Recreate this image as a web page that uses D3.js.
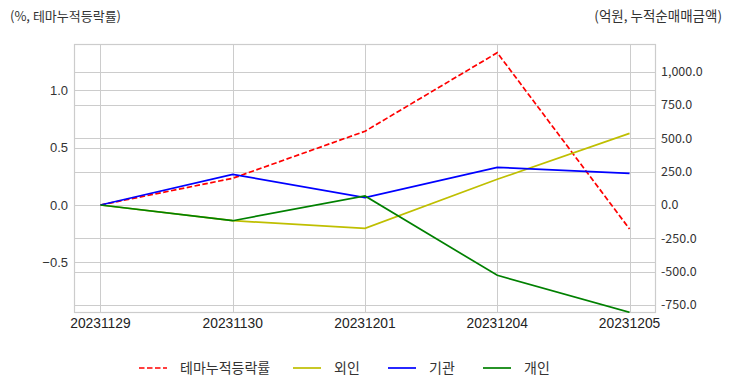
<!DOCTYPE html>
<html><head><meta charset="utf-8">
<script src="https://cdn.jsdelivr.net/npm/d3@7"></script>
<style>body{margin:0;background:#fff}svg{display:block}</style>
</head><body><svg id="c" width="732" height="392"></svg>
<script>
const categories = ["20231129","20231130","20231201","20231204","20231205"];
const themeRate = [0, 0.233, 0.643, 1.328, -0.21];
const foreign = [0, -118, -175, 193, 538];
const institution = [0, 230, 55, 283, 238];
const individual = [0, -118, 68, -528, -806];
const leftTicks = [-0.5, 0.0, 0.5, 1.0];
const rightTicks = [-750, -500, -250, 0, 250, 500, 750, 1000];
const leftTitle = "(%, 테마누적등락률)";
const rightTitle = "(억원, 누적순매매금액)";
const seriesNames = ["테마누적등락률","외인","기관","개인"];

const svg = d3.select("#c");
const L = 74, R = 656, T = 44, B = 313;
const inset = (R - L) * 0.2 / 4.4;
const x = d3.scalePoint().domain(categories).range([L + inset, R - inset]);
const yL = d3.scaleLinear().domain([-0.942, 1.404]).range([B, T]);
const yR = d3.scaleLinear().domain([-811, 1209]).range([B, T]);
const grid = "#cccccc";
const g = svg.append("g");
g.selectAll(".gl").data(leftTicks).join("line").attr("x1", L).attr("x2", R)
  .attr("y1", d => Math.round(yL(d)) + 0.5).attr("y2", d => Math.round(yL(d)) + 0.5)
  .attr("stroke", grid).attr("stroke-width", 1);
g.selectAll(".gr").data(rightTicks).join("line").attr("x1", L).attr("x2", R)
  .attr("y1", d => Math.round(yR(d)) + 0.5).attr("y2", d => Math.round(yR(d)) + 0.5)
  .attr("stroke", grid).attr("stroke-width", 1);
g.selectAll(".gx").data(categories).join("line").attr("y1", T).attr("y2", B)
  .attr("x1", d => Math.round(x(d)) + 0.5).attr("x2", d => Math.round(x(d)) + 0.5)
  .attr("stroke", grid).attr("stroke-width", 1);
g.append("rect").attr("x", L + 0.5).attr("y", T + 0.5).attr("width", R - L - 1).attr("height", B - T - 1)
  .attr("fill", "none").attr("stroke", grid).attr("stroke-width", 1.2);

const numFont = "'Liberation Sans', Arial, sans-serif";
const krFont = "'Noto Sans CJK KR', 'Noto Sans', sans-serif";
svg.selectAll(".lt").data(leftTicks).join("text").attr("x", 68).attr("y", d => yL(d))
  .attr("dy", "0.35em").attr("text-anchor", "end").attr("font-family", numFont)
  .attr("font-size", 13).attr("fill", "#333").text(d => d3.format(".1f")(d));
svg.selectAll(".rt").data(rightTicks).join("text").attr("x", 661).attr("y", d => yR(d))
  .attr("dy", "0.35em").attr("text-anchor", "start").attr("font-family", krFont)
  .attr("font-size", 12.5).attr("fill", "#333").text(d => d3.format(",.1f")(d).replace("−", "-"));
svg.selectAll(".xt").data(categories).join("text").attr("x", d => x(d)).attr("y", 323)
  .attr("dy", "0.35em").attr("text-anchor", "middle").attr("font-family", numFont)
  .attr("font-size", 13.8).attr("fill", "#222").text(d => d);
svg.append("text").attr("x", 10).attr("y", 16).attr("dy", "0.35em").attr("font-family", krFont)
  .attr("font-size", 13).attr("fill", "#333").text(leftTitle);
svg.append("text").attr("x", 722).attr("y", 16).attr("dy", "0.35em").attr("text-anchor", "end")
  .attr("font-family", krFont).attr("font-size", 13.5).attr("fill", "#333").text(rightTitle);

const colors = ["#ff0000", "#bfbf00", "#0000ff", "#008000"];
const mk = (sc) => d3.line().x((d, i) => x(categories[i])).y(d => sc(d));
svg.append("clipPath").attr("id", "pc").append("rect").attr("x", L).attr("y", T).attr("width", R - L).attr("height", B - T);
const lg = svg.append("g").attr("clip-path", "url(#pc)");
lg.append("path").datum(themeRate).attr("d", mk(yL)).attr("fill", "none").attr("stroke", colors[0])
  .attr("stroke-width", 1.7).attr("stroke-dasharray", "5.5,2.5");
[foreign, institution, individual].forEach((s, k) => {
  lg.append("path").datum(s).attr("d", mk(yR)).attr("fill", "none").attr("stroke", colors[k + 1])
    .attr("stroke-width", 1.7);
});

const legX = [139, 293, 388, 483];
const legY = 368;
seriesNames.forEach((n, i) => {
  const lgI = svg.append("g");
  lgI.append("line").attr("x1", legX[i]).attr("x2", legX[i] + 28).attr("y1", legY).attr("y2", legY)
    .attr("stroke", colors[i]).attr("stroke-width", 1.7).attr("stroke-dasharray", i === 0 ? "5.5,2.5" : null);
  lgI.append("text").attr("x", legX[i] + 41).attr("y", legY).attr("dy", "0.35em").attr("font-family", krFont)
    .attr("font-size", 14).attr("fill", "#333").text(n);
});
</script></body></html>
